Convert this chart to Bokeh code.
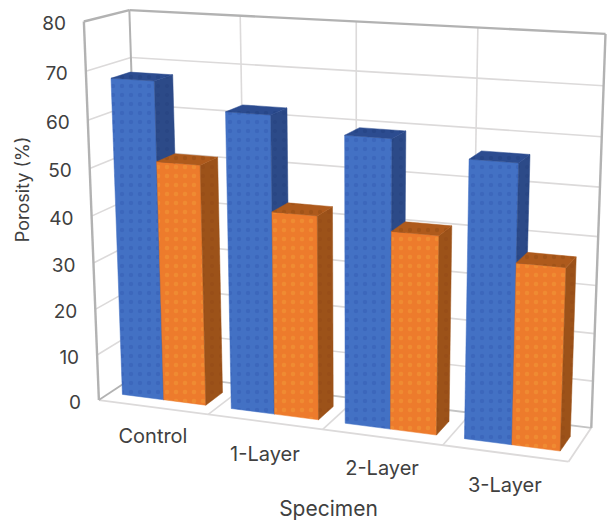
import numpy as np
from bokeh.core.properties import value
from bokeh.embed import file_html
from bokeh.models import Range1d
from bokeh.plotting import figure
from bokeh.resources import INLINE

# Chart data
categories = ["Control", "1-Layer", "2-Layer", "3-Layer"]
series_blue = [68.0, 62.7, 59.7, 56.8]
series_orange = [51.4, 43.0, 41.2, 37.2]
y_ticks = [0, 10, 20, 30, 40, 50, 60, 70, 80]
x_axis_title = "Specimen"
y_axis_title = "Porosity (%)"

# Camera calibration: (category position, value, depth) -> page position of the chart box
calibration = [
    (0, 80, 0, 83, 21), (0, 0, 0, 98, 400),
    (0, 80, 1, 128, 8), (0, 0, 1, 141, 372),
    (4, 80, 1, 606, 32), (4, 0, 1, 591, 426),
    (4, 0, 0, 567, 462),
    (1, 0, 0, 208, 414), (2, 0, 0, 322, 430), (3, 0, 0, 442, 445),
    (1, 80, 1, 239, 17), (2, 80, 1, 356, 23), (3, 80, 1, 477, 28),
    (4, 40, 1, 598, 235), (0, 40, 0, 93, 213),
]


def solve_camera(rows):
    A, b = [], []
    for x, y, z, u, v in rows:
        X = [x / 4, y / 80, z, 1]
        A.append(X + [0, 0, 0, 0] + [-u * c for c in X[:3]])
        b.append(u)
        A.append([0, 0, 0, 0] + X + [-v * c for c in X[:3]])
        b.append(v)
    sol = np.linalg.lstsq(np.array(A, float), np.array(b, float), rcond=None)[0]
    return np.append(sol, 1.0).reshape(3, 4)


CAM = solve_camera(calibration)


def project(x, y, z):
    h = CAM @ np.array([x / 4, y / 80, z, 1.0])
    return h[0] / h[2], h[1] / h[2]


W, H = 608, 520
p = figure(width=W, height=H, x_range=Range1d(0, W), y_range=Range1d(H, 0),
           output_backend="svg", toolbar_location=None, min_border=0)
p.axis.visible = False
p.grid.visible = False
p.outline_line_color = None
p.background_fill_color = "white"
p.border_fill_color = "white"


def seg(a, b, color, width):
    pa, pb = project(*a), project(*b)
    p.line([pa[0], pb[0]], [pa[1], pb[1]], line_color=color, line_width=width)


GRID = "#DCDADA"
FRAME = "#B2B2B2"

# Walls and floor
for t in y_ticks[1:-1]:
    seg((0, t, 0), (0, t, 1), GRID, 1.6)
    seg((0, t, 1), (4, t, 1), GRID, 1.6)
for i in range(1, 4):
    seg((i, 0, 1), (i, 80, 1), GRID, 1.6)
    seg((i, 0, 0), (i, 0, 1), GRID, 1.6)
seg((0, 0, 0), (4, 0, 0), GRID, 1.8)
seg((4, 0, 0), (4, 0, 1), GRID, 1.8)
seg((0, 0, 1), (4, 0, 1), "#C4C4C4", 1.8)
seg((0, 0, 0), (0, 0, 1), FRAME, 1.8)
seg((0, 0, 0), (0, 80, 0), FRAME, 2.4)
seg((0, 80, 0), (0, 80, 1), FRAME, 2.4)
seg((0, 80, 1), (4, 80, 1), FRAME, 2.4)
seg((4, 80, 1), (4, 0, 1), FRAME, 2.4)
seg((0, 0, 1), (0, 80, 1), FRAME, 2.0)

# Bars
GAP = 0.118
BAR = 0.385
Z0, Z1 = 0.25, 0.68


def face(points, fill, dots, dot_alpha):
    xy = [project(*pt) for pt in points]
    p.patch([c[0] for c in xy], [c[1] for c in xy], fill_color=fill, line_color=fill,
            line_width=0.5, hatch_pattern="dot", hatch_color=dots, hatch_alpha=dot_alpha,
            hatch_scale=9, hatch_weight=1)


def bar(x0, x1, v, front, side, top, front_dots, shade_dots):
    face([(x0, 0, Z0), (x1, 0, Z0), (x1, v, Z0), (x0, v, Z0)], front, front_dots, 0.3)
    face([(x1, 0, Z0), (x1, 0, Z1), (x1, v, Z1), (x1, v, Z0)], side, shade_dots, 0.25)
    face([(x0, v, Z0), (x1, v, Z0), (x1, v, Z1), (x0, v, Z1)], top, shade_dots, 0.35)


for i in range(len(categories)):
    a = i + GAP
    bar(a, a + BAR, series_blue[i], "#4371C4", "#2C4A88", "#2C4C90", "#2A4FA8", "#1E3B78")
    bar(a + BAR, a + 2 * BAR, series_orange[i], "#ED7B2C", "#9C5219", "#AE5A1C", "#F5B040", "#8A4412")

# Texts
FONT = value("Inter")
TEXT = "#404040"
for t in y_ticks:
    u, v = project(0, t, 0)
    p.text([u - 18], [v + 1.5], text=[str(t)], text_font=FONT, text_font_size="19px",
           text_color=TEXT, text_align="right", text_baseline="middle")

label_drop = [29, 32, 31, 32]
for i, name in enumerate(categories):
    u, v = project(i + 0.5, 0, 0)
    p.text([u], [v + label_drop[i]], text=[name], text_font=FONT, text_font_size="20px",
           text_color=TEXT, text_align="center", text_baseline="middle")

p.text([328], [508], text=[x_axis_title], text_font=FONT, text_font_size="21px",
       text_color=TEXT, text_align="center", text_baseline="middle")
p.text([22], [189], text=[y_axis_title], text_font=FONT, text_font_size="18px",
       text_color=TEXT, text_align="center", text_baseline="middle", angle=np.pi / 2)

open("out.html", "w").write(file_html(p, INLINE))
